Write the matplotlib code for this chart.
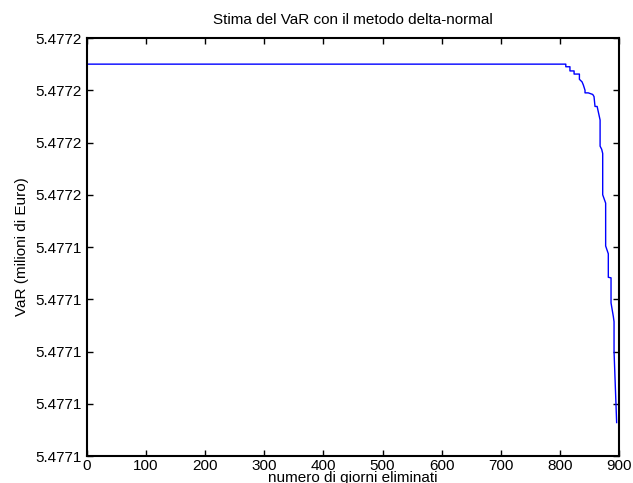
import numpy as np
import matplotlib
matplotlib.use('Agg')
import matplotlib.pyplot as plt
from matplotlib.ticker import FormatStrFormatter

plt.rcParams['font.family'] = ['Liberation Sans', 'DejaVu Sans']

# punti di rottura della curva (giorni eliminati, VaR in milioni di euro)
giorni = [0, 810, 810, 817, 817, 824, 824, 833, 833, 837.5, 839.7, 842.5, 842.5,
          848, 855.5, 857.7, 859.4, 863, 868, 868, 870.7, 872.4, 872.4, 877.4,
          877.4, 881.9, 881.9, 886.5, 886.5, 890.4, 891.6, 891.6, 896]
var = [5.4771800, 5.4771800, 5.4771795, 5.4771795, 5.4771787, 5.4771787,
       5.4771781, 5.4771781, 5.4771771, 5.4771766, 5.4771760, 5.4771750,
       5.4771745, 5.4771745, 5.4771742, 5.4771738, 5.4771719, 5.4771719,
       5.4771693, 5.4771643, 5.4771637, 5.4771629, 5.4771550, 5.4771534,
       5.4771452, 5.4771437, 5.4771392, 5.4771391, 5.4771343, 5.4771317,
       5.4771307, 5.4771250, 5.4771114]

y_ticks = [5.477105 + 0.00001 * i for i in range(9)]
x_ticks = [0, 100, 200, 300, 400, 500, 600, 700, 800, 900]

fig = plt.figure(figsize=(6.33, 4.83), dpi=100)
ax = fig.add_axes([0.1374, 0.0559, 0.8405, 0.8654])
ax.plot(giorni, var, color='blue', lw=1.0)

ax.set_xlim(0, 900)
ax.set_ylim(y_ticks[0], y_ticks[-1])
ax.set_xticks(x_ticks)
ax.set_yticks(y_ticks)
ax.yaxis.set_major_formatter(FormatStrFormatter('%.4f'))
ax.tick_params(direction='in', length=4, width=1, labelsize=11,
               top=True, right=True, colors='black')
ax.tick_params(axis='x', pad=2)
ax.tick_params(axis='y', pad=4)
for s in ax.spines.values():
    s.set_linewidth(1.5)

ax.set_title('Stima del VaR con il metodo delta-normal', fontsize=11, pad=10)
ax.set_xlabel('numero di giorni eliminati', fontsize=11, labelpad=-1)
ax.set_ylabel('VaR (milioni di Euro)', fontsize=11, labelpad=4)

fig.savefig('out.png', dpi=100)
